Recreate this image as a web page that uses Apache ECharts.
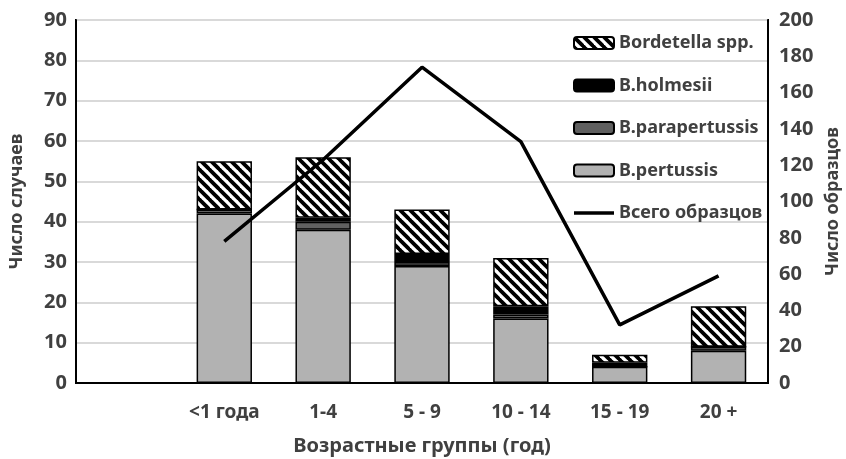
<!DOCTYPE html>
<html>
<head>
<meta charset="utf-8">
<script src="https://cdn.jsdelivr.net/npm/echarts@6/dist/echarts.min.js"></script>
<style>
html,body{margin:0;padding:0;background:#fff;}
#chart{width:846px;height:459px;}
</style>
</head>
<body>
<div id="chart"></div>
<script>
const categories = ['', '<1 года', '1-4', '5 - 9', '10 - 14', '15 - 19', '20 +'];
const pertussis = [null, 42, 38, 29, 16, 4, 8];
const parapertussis = [null, 1, 2, 1, 1, 0, 1];
const holmesii = [null, 0, 1, 2, 2, 1, 0];
const bordetellaSpp = [null, 12, 15, 11, 12, 2, 10];
const totalSamples = [null, 78, 123, 174, 133, 32, 59];
const leftTicks = [0, 90, 10];
const rightTicks = [0, 200, 20];

function makeHatch() {
  const s = 10;
  const c = document.createElement('canvas');
  c.width = s; c.height = s;
  const g = c.getContext('2d');
  g.fillStyle = '#fff';
  g.fillRect(0, 0, s, s);
  g.strokeStyle = '#000';
  g.lineWidth = 3.8;
  for (const x0 of [-s, 0, s]) {
    g.beginPath();
    g.moveTo(x0 - 1, -1);
    g.lineTo(x0 + s + 1, s + 1);
    g.stroke();
  }
  return c;
}
const hatchPattern = { image: makeHatch(), repeat: 'repeat' };

const font = 'Noto Sans';
const txt = '#404040';
const chart = echarts.init(document.getElementById('chart'));
const barStyle = (color) => ({ color: color, borderColor: '#000', borderWidth: 1.5 });

chart.setOption({
  animation: false,
  grid: { left: 76, right: 78, top: 20, bottom: 76, containLabel: false, outerBoundsMode: 'none', show: true, borderColor: '#000', borderWidth: 2, backgroundColor: 'transparent' },
  legend: {
    orient: 'vertical',
    left: 568,
    top: 29,
    itemWidth: 40,
    itemHeight: 12,
    itemGap: 24.5,
    textStyle: { fontFamily: font, fontWeight: 'bold', fontSize: 18, color: txt, lineHeight: 18 },
    data: [
      { name: 'Bordetella spp.' },
      { name: 'B.holmesii' },
      { name: 'B.parapertussis' },
      { name: 'B.pertussis' },
      { name: 'Всего образцов', icon: 'path://M0,0H40V3.6H0Z' }
    ]
  },
  xAxis: {
    type: 'category',
    data: categories,
    name: 'Возрастные группы (год)',
    nameLocation: 'middle',
    nameGap: 53,
    nameTextStyle: { fontFamily: font, fontWeight: 'bold', fontSize: 20, color: txt },
    axisLine: { lineStyle: { color: '#000', width: 2 } },
    axisTick: { show: false },
    axisLabel: { fontFamily: font, fontWeight: 'bold', fontSize: 19, color: txt, margin: 20 }
  },
  yAxis: [
    {
      type: 'value',
      min: leftTicks[0], max: leftTicks[1], interval: leftTicks[2],
      name: 'Число случаев',
      nameLocation: 'middle',
      nameRotate: 90,
      nameGap: 50,
      nameTextStyle: { fontFamily: font, fontWeight: 'bold', fontSize: 18, color: txt },
      axisLine: { show: true, lineStyle: { color: '#000', width: 2 } },
      axisTick: { show: false },
      axisLabel: { fontFamily: font, fontWeight: 'bold', fontSize: 20, color: txt, margin: 9 },
      splitLine: { lineStyle: { color: '#d9d9d9', width: 2 } }
    },
    {
      type: 'value',
      min: rightTicks[0], max: rightTicks[1], interval: rightTicks[2],
      name: 'Число образцов',
      nameLocation: 'middle',
      nameRotate: 90,
      nameGap: 54,
      nameTextStyle: { fontFamily: font, fontWeight: 'bold', fontSize: 18, color: txt },
      position: 'right',
      axisLine: { show: true, lineStyle: { color: '#000', width: 2 } },
      axisTick: { show: false },
      axisLabel: { fontFamily: font, fontWeight: 'bold', fontSize: 20, color: txt, margin: 11 },
      splitLine: { show: false }
    }
  ],
  series: [
    { name: 'B.pertussis', type: 'bar', stack: 'a', barWidth: '56%', data: pertussis, itemStyle: barStyle('#b2b2b2') },
    { name: 'B.parapertussis', type: 'bar', stack: 'a', data: parapertussis, itemStyle: barStyle('#606060') },
    { name: 'B.holmesii', type: 'bar', stack: 'a', data: holmesii, itemStyle: barStyle('#000000') },
    { name: 'Bordetella spp.', type: 'bar', stack: 'a', data: bordetellaSpp, itemStyle: barStyle(hatchPattern) },
    {
      name: 'Всего образцов', type: 'line', yAxisIndex: 1, data: totalSamples,
      symbol: 'none', z: 5,
      lineStyle: { color: '#000', width: 3.5 },
      itemStyle: { color: '#000' }
    }
  ]
});
</script>
</body>
</html>
